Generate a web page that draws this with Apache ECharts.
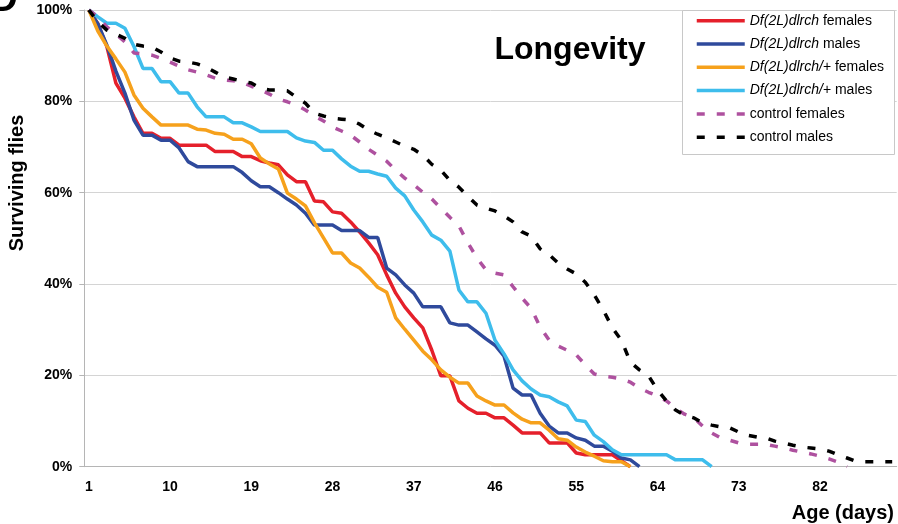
<!DOCTYPE html>
<html>
<head>
<meta charset="utf-8">
<script src="https://cdn.jsdelivr.net/npm/echarts@6/dist/echarts.min.js"></script>
<style>html,body{margin:0;padding:0;background:#fff;}#c{width:898px;height:524px;}</style>
</head>
<body>
<div id="c"></div>
<script>
// Age in days (category axis)
const days = [1,2,3,4,5,6,7,8,9,10,11,12,13,14,15,16,17,18,19,20,21,22,23,24,25,26,27,28,29,30,
  31,32,33,34,35,36,37,38,39,40,41,42,43,44,45,46,47,48,49,50,51,52,53,54,55,56,57,58,59,60,
  61,62,63,64,65,66,67,68,69,70,71,72,73,74,75,76,77,78,79,80,81,82,83,84,85,86,87,88,89,90];

// Surviving flies (%)
const dlrchFemales = [100,97,92,84,80.7,76.6,73,73,71.9,71.9,70.4,70.4,70.4,70.4,69,69,69,67.9,67.9,67,
  66.5,66.1,63.9,62.4,62.4,58.2,58,55.8,55.5,53.6,51.4,49,46.4,42,38,35,32.6,30.4,25.5,19.9,
  19.9,14.4,12.8,11.7,11.7,10.7,10.7,9.1,7.4,7.4,7.4,5.2,5.2,5.2,3,2.6,2.6,2.6,2.6,1.3,0];
const dlrchMales = [100,97,92.3,86.6,81.8,75.9,72.6,72.6,71.5,71.5,69.8,66.8,65.7,65.7,65.7,65.7,65.7,64.4,62.6,61.3,
  61.3,60,58.6,57.3,55.5,52.9,52.9,52.9,51.7,51.7,51.7,50.2,50.2,43.5,42,39.8,38,35,35,35,
  31.5,31,31,29.5,28,26.6,24.2,17.2,15.7,15.7,11.7,8.9,7.4,7.4,6.3,5.8,4.5,4.5,3.4,1.9,1.5,0];
const hetFemales = [100,95.4,92.1,89.3,86.4,81.4,78.5,76.6,74.8,74.8,74.8,74.8,73.9,73.7,73,72.8,71.7,71.7,70.7,67.6,
  66.3,65.2,59.9,58.6,57.1,53.4,50.1,46.8,46.8,44.6,43.5,41.5,39.3,38.2,32.6,30.1,27.7,25.3,23.4,21.2,
  19.6,18.3,18.3,15.5,14.4,13.5,13.5,11.8,10.4,9.6,9.6,8,6.1,5.8,4.3,3.2,2.3,1.3,1.1,1.1,0];
const hetMales = [100,98.5,97.1,97.1,96,92,87.2,87.2,84.3,84.3,81.8,81.8,78.8,76.6,76.6,76.6,75.3,75.3,74.4,73.4,
  73.4,73.4,73.4,72,71.3,71,69.3,69.3,67.4,65.8,64.7,64.7,64.1,63.6,61,59.3,56.2,53.6,50.7,49.6,
  47.2,38.7,36.1,36.1,33.6,27.7,24.7,21.2,18.8,17,15.7,15.3,14.2,13.3,10.2,9.9,6.9,5.5,3.7,2.6,
  2.6,2.6,2.6,2.6,2.6,1.5,1.5,1.5,1.5,0];
const controlFemales = [100,98.5,96.3,94.7,93,90.6,90.4,90.1,89.4,88.6,87.7,86.9,86.4,85.8,85.1,84.7,84.5,84.2,83.3,82.5,
  81.6,80.5,79.9,79.2,78.1,76.8,75.7,74.4,73.5,72.6,71.1,69.5,68.2,66.9,64.9,63.2,61.7,60.1,58.6,56.6,
  54.6,52.7,49,45.7,43.1,42.4,42,39.4,36.9,34.7,30.6,27.7,26.4,25.5,24.5,22.3,20.3,19.8,19.6,19.2,
  18.5,17.2,16.3,15.5,14.4,12.8,11.5,10.8,8.9,7.4,6.3,5.8,5.2,4.9,4.9,4.9,4.5,4.1,3.6,3.2,
  2.8,2.3,1.7,1.0,0];
const controlMales = [100,97.4,95.6,94.7,93.8,92.5,92.1,91.9,90.8,89.5,88.8,88.6,88.2,87.5,86.4,85.3,84.9,84.4,84,82.9,
  82.5,82.5,82.3,80.9,79.6,77.4,76.8,76.3,76.1,75.9,75,73.7,72.8,72,71.1,70.2,69.5,68.2,66.2,64.9,
  62.7,61.2,59.2,57.3,56.6,56,54.9,53.6,51.4,50.5,47.7,46.4,44.6,43.3,42.2,40.4,37.6,34.3,30.4,27.7,
  22.9,21.2,19.9,16.8,14.4,12.4,11.3,10.7,9.6,9.1,8.7,8.5,7.6,6.9,6.5,6.3,5.6,5.2,4.7,4.3,
  4.1,3.9,3.4,2.6,1.9,1.2,1.1,1.1,1.1,1.1];

const yTicks = [0,20,40,60,80,100];

const FONT = "'Liberation Sans', Arial, sans-serif";
const names = ['Df(2L)dlrch females','Df(2L)dlrch males','Df(2L)dlrch/+ females','Df(2L)dlrch/+ males','control females','control males'];
const legendLabel = {
  'Df(2L)dlrch females': '{i|Df(2L)dlrch} females',
  'Df(2L)dlrch males': '{i|Df(2L)dlrch} males',
  'Df(2L)dlrch/+ females': '{i|Df(2L)dlrch/}+ females',
  'Df(2L)dlrch/+ males': '{i|Df(2L)dlrch/}+ males',
  'control females': 'control females',
  'control males': 'control males'
};

function mk(name, data, color, dashed) {
  return {
    name: name, type: 'line', data: data, symbol: 'none', smooth: false,
    lineStyle: { color: color, width: 3.5, type: dashed ? [8, 12] : 'solid', cap: 'butt' },
    itemStyle: { color: color },
    emphasis: { disabled: true }
  };
}

const chart = echarts.init(document.getElementById('c'), null, { renderer: 'canvas' });
chart.setOption({
  animation: false,
  backgroundColor: '#fff',
  grid: { left: 84.3, right: 1.3, top: 10, bottom: 57.3, containLabel: false },
  xAxis: {
    type: 'category', data: days, boundaryGap: true,
    axisLine: { lineStyle: { color: '#b5b5b5', width: 1 } },
    axisTick: { interval: 4, length: 5, lineStyle: { color: '#b5b5b5' } },
    axisLabel: { interval: 8, margin: 13, color: '#000', fontFamily: FONT, fontWeight: 'bold', fontSize: 14 },
    splitLine: { show: false }
  },
  yAxis: {
    type: 'value', min: yTicks[0], max: yTicks[yTicks.length - 1], interval: 20,
    axisLine: { show: true, lineStyle: { color: '#b5b5b5', width: 1 } },
    axisTick: { show: true, length: 5, lineStyle: { color: '#b5b5b5' } },
    axisLabel: { margin: 12, color: '#000', fontFamily: FONT, fontWeight: 'bold', fontSize: 14, formatter: '{value}%' },
    splitLine: { show: true, lineStyle: { color: '#d4d4d4', width: 1 } }
  },
  legend: {
    orient: 'vertical', left: 695, top: 13.7, padding: 0,
    itemWidth: 48, itemHeight: 14, itemGap: 9.3, z: 10,
    data: names,
    itemStyle: { opacity: 0 },
    lineStyle: { width: 3.5 },
    formatter: function (n) { return legendLabel[n]; },
    textStyle: {
      fontFamily: FONT, fontSize: 14, color: '#000', lineHeight: 14,
      rich: { i: { fontFamily: FONT, fontSize: 14, fontStyle: 'italic', color: '#000', lineHeight: 14 } }
    },
    selectedMode: false
  },
  graphic: [
    { type: 'rect', z: 5, shape: { x: 682.5, y: 10.5, width: 212, height: 144 },
      style: { fill: '#fff', stroke: '#c8c8c8', lineWidth: 1 } },
    { type: 'text', z: 6, x: 4, y: 1,
      style: { text: 'D', font: 'bold 38px ' + FONT, fill: '#000', align: 'center', verticalAlign: 'middle' } },
    { type: 'text', z: 6, x: 570, y: 50,
      style: { text: 'Longevity', font: 'bold 32px ' + FONT, fill: '#000', align: 'center', verticalAlign: 'middle' } },
    { type: 'text', z: 6, x: 17, y: 183, rotation: Math.PI / 2,
      style: { text: 'Surviving flies', font: 'bold 20px ' + FONT, fill: '#000', align: 'center', verticalAlign: 'middle' } },
    { type: 'text', z: 6, x: 894, y: 513,
      style: { text: 'Age (days)', font: 'bold 20px ' + FONT, fill: '#000', align: 'right', verticalAlign: 'middle' } }
  ],
  series: [
    mk(names[0], dlrchFemales, '#E5202B', false),
    mk(names[1], dlrchMales, '#2F4A9C', false),
    mk(names[2], hetFemales, '#F6A11C', false),
    mk(names[3], hetMales, '#3EBDEC', false),
    mk(names[4], controlFemales, '#AE519F', true),
    mk(names[5], controlMales, '#000000', true)
  ]
});
</script>
</body>
</html>
